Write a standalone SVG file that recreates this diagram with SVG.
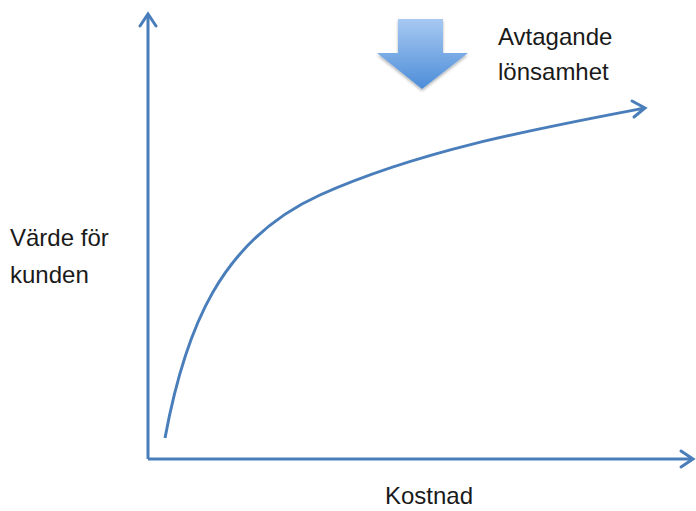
<svg xmlns="http://www.w3.org/2000/svg" width="696" height="511" viewBox="0 0 696 511">
  <defs>
    <style>
      .axis { fill: none; stroke: #4a7ebb; stroke-width: 3; }
      .head { fill: none; stroke: #4a7ebb; stroke-width: 3; stroke-linecap: round; stroke-linejoin: miter; }
      .lbl { font-family: "Liberation Sans", Arial, sans-serif; font-size: 24px; fill: #1a1a1a; }
    </style>
    <linearGradient id="arrowFill" x1="0" y1="0" x2="0" y2="1">
      <stop offset="0" stop-color="#a7c9f2"/>
      <stop offset="1" stop-color="#4d8dd8"/>
    </linearGradient>
    <filter id="soft" x="-20%" y="-20%" width="140%" height="140%">
      <feGaussianBlur in="SourceAlpha" stdDeviation="1.5"/>
      <feOffset dx="0" dy="2" result="b"/>
      <feComponentTransfer><feFuncA type="linear" slope="0.3"/></feComponentTransfer>
      <feMerge><feMergeNode/><feMergeNode in="SourceGraphic"/></feMerge>
    </filter>
  </defs>

  <g id="connectors">
    <!-- y axis -->
    <path class="axis" d="M148,459 L148,14"/>
    <path class="head" d="M140,26 L148,14 L156,26"/>
    <!-- x axis -->
    <path class="axis" d="M148,459 L692,459"/>
    <path class="head" d="M681,451 L693,459 L681,467"/>
    <!-- value curve -->
    <path class="axis" d="M165,438 C185,330 220,240 320,195 S540,128 645,108"/>
    <path class="head" d="M632,101 L645,108 L634,117"/>
  </g>

  <g id="decline-arrow" filter="url(#soft)">
    <path d="M398,19 L443,19 L443,53 L468,53 L422,89 L377,53 L398,53 Z" fill="url(#arrowFill)"/>
  </g>

  <g id="label-decline">
    <text class="lbl" x="498" y="45">Avtagande</text>
    <text class="lbl" x="498" y="80">lönsamhet</text>
  </g>
  <g id="label-value">
    <text class="lbl" x="10" y="246">Värde för</text>
    <text class="lbl" x="10" y="283">kunden</text>
  </g>
  <g id="label-cost">
    <text class="lbl" x="385" y="504">Kostnad</text>
  </g>
</svg>
